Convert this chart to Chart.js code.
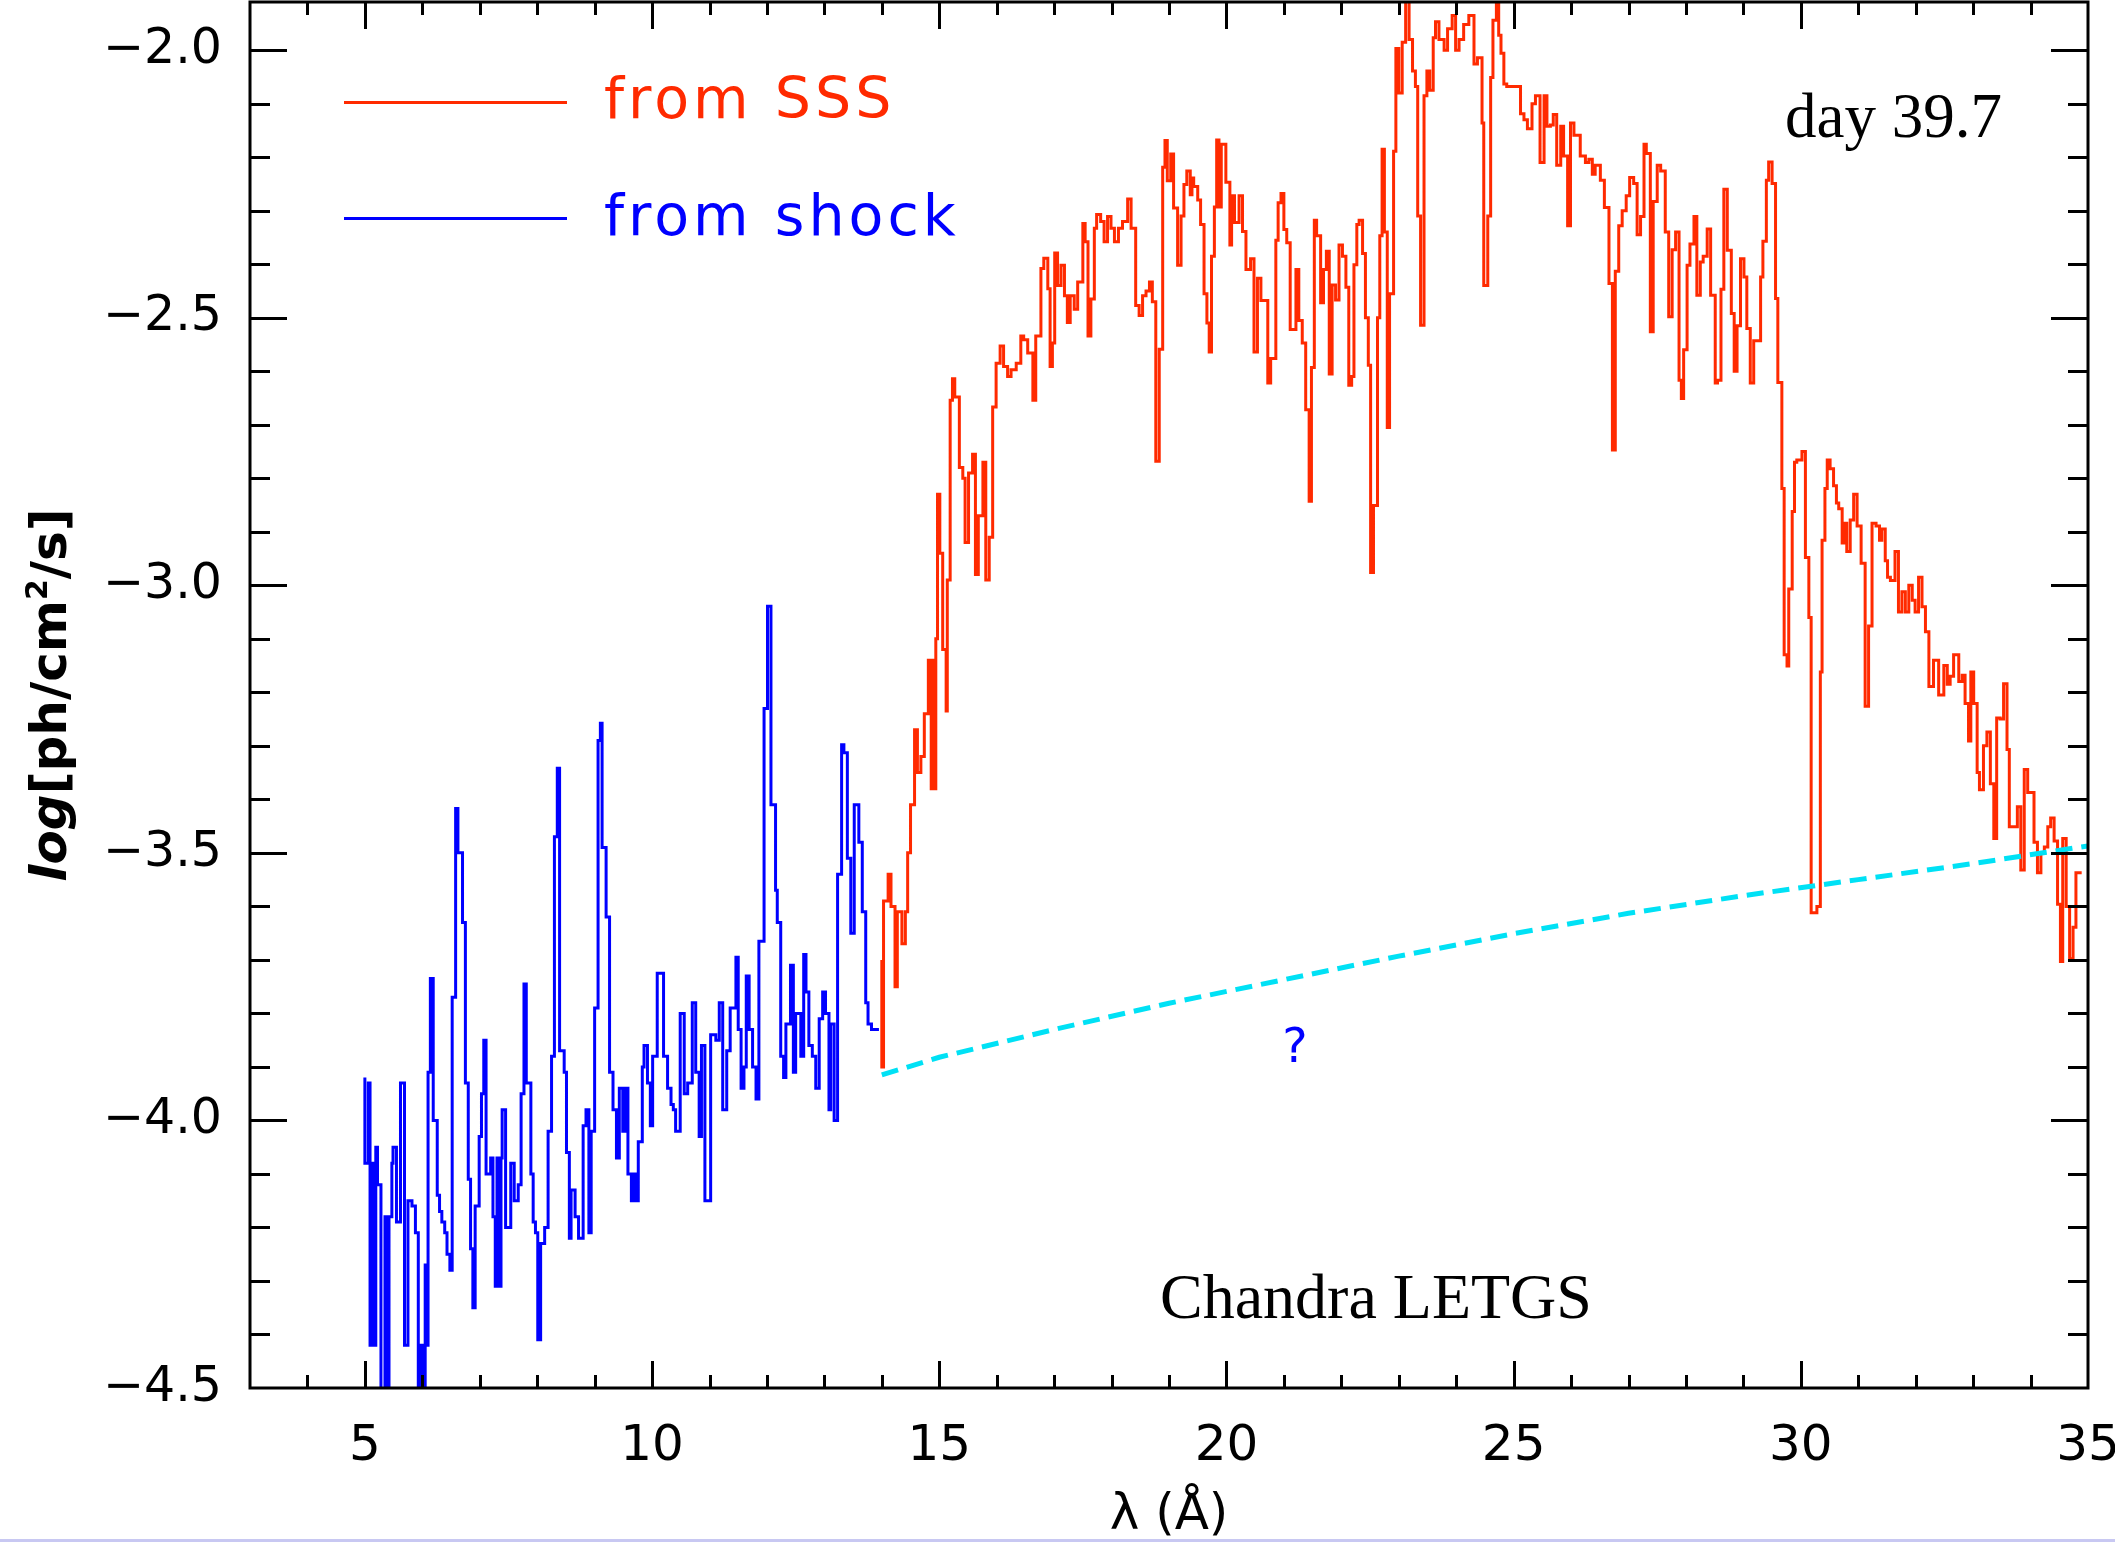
<!DOCTYPE html>
<html>
<head>
<meta charset="utf-8">
<title>LETGS spectrum day 39.7</title>
<script src="https://cdn.jsdelivr.net/npm/chart.js@4.4.1/dist/chart.umd.min.js"></script>
<style>
  html, body { margin: 0; padding: 0; background: #fff; }
  #wrap { width: 2115px; height: 1542px; position: relative; }
</style>
</head>
<body>
<div id="wrap"><canvas id="spectrum" width="2115" height="1542"></canvas></div>
<script>
// shock component, bin left edges (Å) and log flux; last entry closes the final bin
const shockWave = [5.00, 5.06, 5.09, 5.11, 5.16, 5.19, 5.22, 5.28, 5.35, 5.39, 5.42, 5.47, 5.49, 5.55, 5.62, 5.69, 5.75, 5.82, 5.88, 5.93,
  5.98, 6.02, 6.05, 6.07, 6.10, 6.14, 6.19, 6.26, 6.30, 6.34, 6.39, 6.43, 6.48, 6.52, 6.58, 6.62, 6.70, 6.75, 6.80, 6.84,
  6.88, 6.92, 6.99, 7.03, 7.07, 7.11, 7.19, 7.23, 7.27, 7.30, 7.35, 7.37, 7.39, 7.45, 7.54, 7.60, 7.67, 7.72, 7.77, 7.81,
  7.89, 7.93, 7.97, 8.01, 8.06, 8.13, 8.19, 8.25, 8.30, 8.35, 8.39, 8.47, 8.51, 8.56, 8.59, 8.66, 8.72, 8.80, 8.85, 8.90,
  8.94, 9.00, 9.06, 9.10, 9.13, 9.20, 9.26, 9.32, 9.38, 9.43, 9.49, 9.53, 9.58, 9.64, 9.68, 9.72, 9.76, 9.83, 9.86, 9.92,
  9.97, 10.01, 10.09, 10.20, 10.27, 10.33, 10.37, 10.41, 10.49, 10.56, 10.62, 10.70, 10.76, 10.82, 10.86, 10.92, 11.02, 11.11, 11.17, 11.23,
  11.30, 11.36, 11.46, 11.50, 11.55, 11.60, 11.64, 11.69, 11.75, 11.81, 11.86, 11.95, 12.01, 12.07, 12.15, 12.18, 12.24, 12.29, 12.33, 12.41,
  12.46, 12.50, 12.59, 12.64, 12.68, 12.73, 12.79, 12.85, 12.91, 12.97, 13.02, 13.08, 13.11, 13.17, 13.23, 13.30, 13.34, 13.40, 13.46, 13.52,
  13.60, 13.66, 13.72, 13.76, 13.82, 13.89, 13.95];
const shockFlux = [-3.92, -4.08, -3.93, -4.42, -4.08, -4.42, -4.05, -4.12, -4.62, -4.18, -4.62, -4.18, -4.08, -4.05, -4.19, -3.93, -4.42, -4.15, -4.16, -4.21,
  -4.62, -4.42, -4.62, -4.27, -4.42, -3.91, -3.735, -4.00, -4.14, -4.17, -4.19, -4.21, -4.25, -4.28, -3.77, -3.417, -3.50, -3.63, -3.93, -4.11,
  -4.24, -4.35, -4.16, -4.03, -3.95, -3.85, -4.10, -4.07, -4.18, -4.31, -4.07, -4.31, -4.07, -3.98, -4.20, -4.08, -4.15, -4.12, -3.95, -3.745,
  -3.93, -4.10, -4.19, -4.21, -4.41, -4.23, -4.20, -4.02, -3.88, -3.47, -3.342, -3.87, -3.91, -4.06, -4.22, -4.13, -4.18, -4.22, -4.01, -3.98,
  -4.21, -4.02, -3.79, -3.29, -3.258, -3.49, -3.62, -3.91, -3.98, -4.07, -3.94, -4.02, -3.94, -4.10, -4.15, -4.10, -4.15, -4.04, -3.90, -3.86,
  -3.93, -4.01, -3.88, -3.725, -3.88, -3.94, -3.97, -3.98, -4.02, -3.80, -3.95, -3.93, -3.78, -3.91, -4.03, -3.86, -4.15, -3.84, -3.85, -3.78,
  -3.98, -3.87, -3.79, -3.695, -3.83, -3.94, -3.90, -3.73, -3.83, -3.90, -3.96, -3.665, -3.23, -3.039, -3.41, -3.57, -3.63, -3.88, -3.92, -3.82,
  -3.71, -3.91, -3.80, -3.88, -3.69, -3.76, -3.86, -3.88, -3.94, -3.81, -3.76, -3.80, -3.98, -3.82, -4.00, -3.54, -3.298, -3.313, -3.51, -3.65,
  -3.41, -3.48, -3.61, -3.78, -3.82, -3.83, -3.83];

// supersoft source component
const sssWave = [14.00, 14.03, 14.11, 14.16, 14.23, 14.27, 14.35, 14.41, 14.45, 14.50, 14.57, 14.62, 14.68, 14.74, 14.81, 14.86, 14.89, 14.92, 14.94, 14.97,
  15.01, 15.06, 15.12, 15.14, 15.19, 15.23, 15.27, 15.35, 15.41, 15.45, 15.51, 15.58, 15.63, 15.68, 15.76, 15.81, 15.87, 15.93, 15.99, 16.06,
  16.12, 16.19, 16.25, 16.34, 16.42, 16.47, 16.54, 16.63, 16.68, 16.77, 16.82, 16.89, 16.93, 16.97, 17.01, 17.06, 17.12, 17.18, 17.23, 17.28,
  17.35, 17.41, 17.50, 17.54, 17.59, 17.64, 17.70, 17.74, 17.81, 17.87, 17.93, 17.99, 18.05, 18.12, 18.19, 18.28, 18.34, 18.42, 18.48, 18.54,
  18.60, 18.66, 18.71, 18.77, 18.83, 18.89, 18.93, 18.97, 19.03, 19.08, 19.15, 19.21, 19.26, 19.31, 19.37, 19.40, 19.43, 19.50, 19.55, 19.61,
  19.66, 19.70, 19.74, 19.79, 19.83, 19.87, 19.91, 19.99, 20.06, 20.09, 20.14, 20.22, 20.28, 20.34, 20.42, 20.48, 20.54, 20.60, 20.72, 20.77,
  20.86, 20.90, 20.95, 21.00, 21.05, 21.11, 21.21, 21.26, 21.32, 21.38, 21.44, 21.48, 21.53, 21.57, 21.64, 21.69, 21.74, 21.79, 21.84, 21.90,
  21.96, 22.02, 22.08, 22.13, 22.18, 22.22, 22.27, 22.31, 22.37, 22.42, 22.47, 22.51, 22.56, 22.63, 22.67, 22.71, 22.75, 22.80, 22.84, 22.91,
  22.95, 23.00, 23.06, 23.12, 23.18, 23.24, 23.29, 23.33, 23.38, 23.44, 23.49, 23.54, 23.60, 23.64, 23.70, 23.79, 23.85, 23.93, 23.99, 24.05,
  24.13, 24.22, 24.31, 24.37, 24.45, 24.48, 24.55, 24.60, 24.64, 24.70, 24.74, 24.78, 24.83, 24.88, 25.12, 25.18, 25.24, 25.32, 25.38, 25.46,
  25.53, 25.58, 25.64, 25.69, 25.75, 25.82, 25.87, 25.94, 25.99, 26.05, 26.16, 26.25, 26.31, 26.37, 26.42, 26.51, 26.58, 26.66, 26.72, 26.77,
  26.83, 26.89, 26.96, 27.02, 27.09, 27.15, 27.21, 27.27, 27.31, 27.38, 27.43, 27.50, 27.56, 27.64, 27.70, 27.76, 27.82, 27.88, 27.92, 27.96,
  28.02, 28.07, 28.14, 28.19, 28.25, 28.30, 28.37, 28.43, 28.51, 28.55, 28.61, 28.66, 28.72, 28.79, 28.84, 28.89, 28.95, 29.01, 29.06, 29.12,
  29.18, 29.30, 29.34, 29.40, 29.44, 29.50, 29.56, 29.60, 29.67, 29.71, 29.76, 29.79, 29.85, 29.89, 29.93, 30.02, 30.08, 30.14, 30.18, 30.28,
  30.34, 30.37, 30.42, 30.46, 30.51, 30.57, 30.62, 30.66, 30.72, 30.75, 30.80, 30.86, 30.92, 30.98, 31.05, 31.12, 31.18, 31.24, 31.31, 31.37,
  31.41, 31.47, 31.51, 31.56, 31.64, 31.70, 31.76, 31.82, 31.88, 31.94, 31.99, 32.05, 32.11, 32.17, 32.23, 32.31, 32.40, 32.49, 32.55, 32.60,
  32.66, 32.75, 32.81, 32.86, 32.92, 32.96, 33.01, 33.07, 33.11, 33.18, 33.24, 33.30, 33.36, 33.41, 33.47, 33.53, 33.59, 33.63, 33.77, 33.83,
  33.89, 33.95, 34.06, 34.12, 34.18, 34.24, 34.30, 34.35, 34.41, 34.47, 34.52, 34.56, 34.62, 34.68, 34.74, 34.79, 34.83, 34.89];
const sssFlux = [-3.70, -3.90, -3.59, -3.54, -3.60, -3.75, -3.61, -3.67, -3.61, -3.50, -3.41, -3.27, -3.35, -3.32, -3.24, -3.14, -3.38, -3.14, -3.38, -3.10,
  -2.83, -2.94, -3.12, -3.235, -2.99, -2.654, -2.614, -2.648, -2.78, -2.80, -2.92, -2.79, -2.755, -2.98, -2.87, -2.77, -2.99, -2.91, -2.667, -2.585,
  -2.553, -2.591, -2.61, -2.597, -2.585, -2.534, -2.541, -2.566, -2.654, -2.534, -2.408, -2.389, -2.446, -2.591, -2.547, -2.379, -2.44, -2.402, -2.459, -2.509,
  -2.459, -2.484, -2.433, -2.324, -2.358, -2.534, -2.465, -2.333, -2.307, -2.32, -2.358, -2.311, -2.333, -2.358, -2.333, -2.32, -2.278, -2.333, -2.477, -2.496,
  -2.459, -2.45, -2.433, -2.47, -2.768, -2.559, -2.219, -2.169, -2.244, -2.194, -2.295, -2.402, -2.31, -2.251, -2.226, -2.27, -2.239, -2.255, -2.28, -2.326,
  -2.455, -2.51, -2.564, -2.385, -2.293, -2.168, -2.293, -2.176, -2.247, -2.364, -2.272, -2.322, -2.272, -2.339, -2.41, -2.39, -2.564, -2.426, -2.468, -2.622,
  -2.576, -2.355, -2.285, -2.268, -2.335, -2.36, -2.522, -2.41, -2.505, -2.547, -2.672, -2.843, -2.593, -2.318, -2.347, -2.472, -2.41, -2.376, -2.605, -2.439,
  -2.467, -2.364, -2.385, -2.443, -2.626, -2.61, -2.401, -2.326, -2.318, -2.38, -2.5, -2.589, -2.976, -2.851, -2.50, -2.347, -2.185, -2.34, -2.705, -2.455,
  -2.189, -1.997, -2.08, -1.985, -1.88, -1.98, -2.039, -2.068, -2.31, -2.514, -2.085, -2.039, -2.075, -1.977, -1.947, -1.98, -2.0, -1.96, -1.935, -2.0,
  -1.98, -1.952, -1.935, -2.026, -2.014, -2.136, -2.44, -2.31, -2.051, -1.944, -1.89, -1.972, -2.006, -2.063, -2.068, -2.119, -2.13, -2.147, -2.10, -2.085,
  -2.21, -2.085, -2.142, -2.14, -2.12, -2.215, -2.142, -2.198, -2.328, -2.136, -2.159, -2.198, -2.21, -2.204, -2.232, -2.215, -2.243, -2.294, -2.436, -2.747,
  -2.413, -2.328, -2.30, -2.272, -2.238, -2.249, -2.345, -2.311, -2.176, -2.193, -2.526, -2.283, -2.215, -2.226, -2.34, -2.498, -2.373, -2.34, -2.617, -2.651,
  -2.56, -2.402, -2.362, -2.311, -2.458, -2.396, -2.385, -2.334, -2.458, -2.622, -2.617, -2.447, -2.26, -2.374, -2.492, -2.60, -2.515, -2.39, -2.424, -2.52,
  -2.622, -2.543, -2.424, -2.357, -2.243, -2.209, -2.249, -2.464, -2.621, -2.819, -3.13, -3.151, -3.007, -2.862, -2.77, -2.766, -2.75, -2.948, -3.06, -3.612,
  -3.60, -3.162, -2.916, -2.819, -2.766, -2.782, -2.814, -2.846, -2.857, -2.921, -2.884, -2.937, -2.878, -2.83, -2.889, -2.959, -3.226, -3.076, -2.884, -2.889,
  -2.916, -2.895, -2.954, -2.985, -2.991, -2.937, -3.05, -3.012, -3.05, -3.0, -3.028, -3.05, -2.985, -3.04, -3.087, -3.189, -3.14, -3.205, -3.15, -3.185,
  -3.17, -3.13, -3.18, -3.168, -3.221, -3.291, -3.162, -3.221, -3.35, -3.382, -3.30, -3.274, -3.371, -3.473, -3.248, -3.25, -3.184, -3.307, -3.451, -3.414,
  -3.532, -3.344, -3.387, -3.48, -3.537, -3.50, -3.489, -3.451, -3.435, -3.478, -3.596, -3.703, -3.473, -3.60, -3.698, -3.639, -3.537, -3.537];

// possible continuation of the shock emission under the SSS
const guessWave = [14, 15, 17, 19, 21, 23, 25, 27, 29, 31, 33, 35];
const guessFlux = [-3.915, -3.882, -3.830, -3.781, -3.737, -3.693, -3.651, -3.613, -3.580, -3.550, -3.520, -3.487];

const xTicks = [5, 10, 15, 20, 25, 30, 35];
const yTicks = [-4.5, -4.0, -3.5, -3.0, -2.5, -2.0];

const RED = '#ff2a00';
const BLUE = '#0000ff';
const CYAN = '#00e1f5';
const SANS = '"DejaVu Sans", sans-serif';
const SERIF = '"Liberation Serif", "Times New Roman", serif';

function pairs(wave, flux) {
  return wave.map((w, i) => ({ x: w, y: flux[i] }));
}

// keep the plot box fixed, labels are allowed to hang over the edges
function noEdgePadding(s) {
  s.paddingTop = 0;
  s.paddingBottom = 0;
  s.paddingLeft = 0;
  s.paddingRight = 0;
}

// inward IDL style tick marks, box and the text bits
const decorations = {
  id: 'decorations',
  afterDatasetsDraw(chart) {
    const { ctx, chartArea: a, scales: { x, y } } = chart;
    ctx.save();
    ctx.strokeStyle = '#000';
    ctx.lineWidth = 3;
    ctx.beginPath();
    for (let w = 4; w < 35; w++) {
      const px = Math.round(x.getPixelForValue(w)) + 0.5;
      const len = w % 5 === 0 ? 27 : 13;
      ctx.moveTo(px, a.bottom); ctx.lineTo(px, a.bottom - len);
      ctx.moveTo(px, a.top); ctx.lineTo(px, a.top + len);
    }
    for (let k = -44; k <= -19; k++) {
      const v = k / 10;
      if (v > y.max) break;
      const py = Math.round(y.getPixelForValue(v)) + 0.5;
      const len = k % 5 === 0 ? 37 : 20;
      ctx.moveTo(a.left, py); ctx.lineTo(a.left + len, py);
      ctx.moveTo(a.right, py); ctx.lineTo(a.right - len, py);
    }
    ctx.stroke();
    ctx.strokeRect(a.left, a.top, a.right - a.left, a.bottom - a.top);

    // legend
    ctx.lineWidth = 3;
    ctx.strokeStyle = RED;
    ctx.beginPath(); ctx.moveTo(344, 102.5); ctx.lineTo(567, 102.5); ctx.stroke();
    ctx.strokeStyle = BLUE;
    ctx.beginPath(); ctx.moveTo(344, 218.5); ctx.lineTo(567, 218.5); ctx.stroke();
    ctx.font = '57px ' + SANS;
    ctx.letterSpacing = '4px';
    ctx.textAlign = 'left';
    ctx.textBaseline = 'alphabetic';
    ctx.fillStyle = RED;
    ctx.fillText('from SSS', 604, 118);
    ctx.fillStyle = BLUE;
    ctx.fillText('from shock', 604, 235);
    ctx.letterSpacing = '0px';

    ctx.fillStyle = BLUE;
    ctx.font = '48px ' + SANS;
    ctx.textAlign = 'center';
    ctx.textBaseline = 'middle';
    ctx.fillText('?', 1295, 1050);

    ctx.fillStyle = '#000';
    ctx.textAlign = 'left';
    ctx.textBaseline = 'alphabetic';
    ctx.font = '63px ' + SERIF;
    ctx.fillText('day 39.7', 1785, 137);
    ctx.font = '64px ' + SERIF;
    ctx.fillText('Chandra LETGS', 1160, 1318);

    // x title
    ctx.font = '50px ' + SANS;
    ctx.textAlign = 'center';
    ctx.fillText('\u03bb (\u00c5)', (a.left + a.right) / 2, 1529);

    // y title, "log" in italics
    const parts = [
      { t: 'log', f: 'italic bold 50px ' + SANS, dy: 0 },
      { t: '[ph/cm', f: 'bold 50px ' + SANS, dy: 0 },
      { t: '2', f: 'bold 30px ' + SANS, dy: -19 },
      { t: '/s]', f: 'bold 50px ' + SANS, dy: 0 }
    ];
    let total = 0;
    parts.forEach(p => { ctx.font = p.f; p.w = ctx.measureText(p.t).width; total += p.w; });
    ctx.translate(66, (a.top + a.bottom) / 2);
    ctx.rotate(-Math.PI / 2);
    ctx.textAlign = 'left';
    let cx = -total / 2;
    parts.forEach(p => { ctx.font = p.f; ctx.fillText(p.t, cx, p.dy); cx += p.w; });
    ctx.restore();

    ctx.save();
    ctx.fillStyle = '#c8c8f2';
    ctx.fillRect(0, 1539, chart.width, 3);
    ctx.restore();
  }
};

function renderSpectrum() {
  const ctx = document.getElementById('spectrum').getContext('2d');
  new Chart(ctx, {
    type: 'line',
    data: {
      datasets: [
        {
          label: '?',
          data: pairs(guessWave, guessFlux),
          borderColor: CYAN,
          borderWidth: 5,
          borderDash: [17, 9],
          pointRadius: 0,
          order: 0
        },
        {
          label: 'from SSS',
          data: pairs(sssWave, sssFlux),
          borderColor: RED,
          borderWidth: 3,
          stepped: 'after',
          pointRadius: 0,
          order: 1
        },
        {
          label: 'from shock',
          data: pairs(shockWave, shockFlux),
          borderColor: BLUE,
          borderWidth: 3,
          stepped: 'after',
          pointRadius: 0,
          order: 2
        }
      ]
    },
    options: {
      responsive: false,
      animation: false,
      devicePixelRatio: 1,
      layout: { padding: { top: 2, right: 27, left: 0, bottom: 0 } },
      plugins: { legend: { display: false }, tooltip: { enabled: false } },
      scales: {
        x: {
          type: 'linear',
          min: 3,
          max: 35,
          grid: { display: false, drawTicks: false },
          border: { display: false },
          afterBuildTicks: s => { s.ticks = xTicks.map(v => ({ value: v })); },
          afterFit: s => { s.height = 154; noEdgePadding(s); },
          ticks: {
            autoSkip: false,
            maxRotation: 0,
            padding: 29,
            color: '#000',
            font: { family: SANS, size: 50 },
            callback: v => String(v)
          }
        },
        y: {
          type: 'linear',
          min: -4.5,
          max: -1.91,
          grid: { display: false, drawTicks: false },
          border: { display: false },
          afterBuildTicks: s => { s.ticks = yTicks.map(v => ({ value: v })); },
          afterFit: s => { s.width = 250; noEdgePadding(s); },
          ticks: {
            autoSkip: false,
            padding: 28,
            color: '#000',
            font: { family: SANS, size: 49 },
            callback: v => v.toFixed(1).replace('-', '\u2212')
          }
        }
      }
    },
    plugins: [decorations]
  });
}

window.addEventListener('DOMContentLoaded', () => {
  renderSpectrum();
});
</script>
</body>
</html>
